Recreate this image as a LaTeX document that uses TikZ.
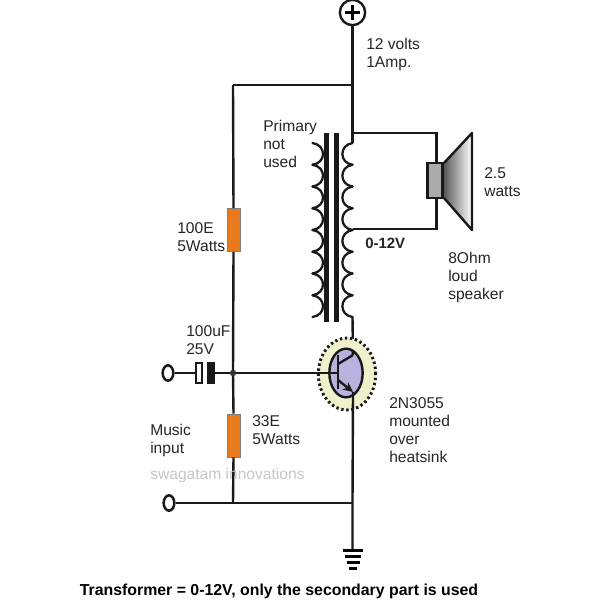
\documentclass[tikz,border=0pt]{standalone}
\usepackage{fontspec}
\setmainfont{Liberation Sans}
\tikzset{
  x=0.75pt,y=-0.75pt,
  wire/.style={draw=black!90,line width=1.8pt},
  coilline/.style={draw=black!90,line width=1.7pt},
  resistor/.style={draw=black!50,line width=0.3pt,fill={rgb,255:red,232;green,122;blue,28},minimum width=9.5pt,minimum height=32.5pt,inner sep=0pt},
  lbl/.style={anchor=north west,align=left,inner sep=0pt,font=\fontsize{11.7pt}{13.5pt}\selectfont,text=black!85},
  terminal/.style={ellipse,draw=black!90,line width=1.9pt,minimum width=8pt,minimum height=11.5pt,inner sep=0pt,fill=white},
  gbar/.style={line width=1.8pt,draw=black}
}
\usetikzlibrary{shapes.geometric,arrows.meta}
\begin{document}
\begin{tikzpicture}
\useasboundingbox (0,0) rectangle (600,600);
\fill[white] (0,0) rectangle (600,600);
% named points
\coordinate (topj) at (352.5,85);
\coordinate (leftj) at (233,85);
\coordinate (coiltop) at (352.5,133);
\coordinate (coiltapin) at (352.5,229);
\coordinate (spkTR) at (436.5,133);
\coordinate (spkBR) at (436.5,229);
\coordinate (coilbot) at (352.5,317);
\coordinate (collector) at (353,355);
\coordinate (emitter) at (353,392);
\coordinate (basebar) at (338,373);
\coordinate (junction) at (233,373);
\coordinate (botj) at (233,503);
\coordinate (botr) at (352.5,503);
\coordinate (gnd) at (352.5,550);
% plus terminal
\node[circle,draw=black!90,line width=1.8pt,minimum size=19pt,inner sep=0pt] (plus) at (352.5,12.5) {};
\draw[line width=1.7pt] (345,12.5) -- (360,12.5) (352.5,5) -- (352.5,20);
% wires
\draw[wire] (plus.south) -- (topj) -- (coiltop) -- (352.5,143);
\draw[wire] (topj) -- (leftj);
\draw[wire] (coiltop) -- (spkTR) -- (436.5,165);
\draw[wire] (coiltapin) -- (spkBR) -- (436.5,198);
% resistors
\node[resistor] (r1) at (233.5,230) {};
\node[resistor] (r2) at (233.5,435.5) {};
\draw[wire] (leftj) -- (r1.north);
\draw[wire] (r1.south) -- (junction) -- (r2.north);
\draw[wire] (r2.south) -- (botj);
\draw[wire] (botj) -- (botr);
% transformer core
\fill[black!90] (323.5,133) rectangle (328.5,322);
\fill[black!90] (333.5,133) rectangle (338.5,322);
% coils
\foreach \i in {0,...,7}{
  \pgfmathsetmacro{\ya}{143+\i*21.75}
  \draw[coilline,line cap=round] (352.5,\ya) .. controls (339,\ya+2) and (339,\ya+20) .. (352.5,\ya+21.75);
  \draw[coilline,line cap=round] (312.5,\ya) .. controls (326.5,\ya+2) and (326.5,\ya+20) .. (312.5,\ya+21.75);
}
\draw[wire] (352.5,317) -- (collector);
% speaker
\shade[left color=black!65,right color=white] (444,163) -- (472,133) -- (472,230) -- (444,198) -- cycle;
\draw[line width=1.8pt,line join=round,draw=black!90] (444,163) -- (472,133) -- (472,230) -- (444,198);
\node[draw=black!90,line width=1.8pt,fill=black!33,minimum width=11.5pt,minimum height=26pt,inner sep=0pt] (mag) at (435,180.5) {};
% transistor
\node[ellipse,draw=black!90,line width=2.2pt,dash pattern=on 1.8pt off 2pt,fill={rgb,255:red,240;green,240;blue,204},minimum width=43pt,minimum height=54pt,inner sep=0pt] (halo) at (347,374) {};
\node[ellipse,draw=black!90,line width=1.8pt,fill={rgb,255:red,186;green,178;blue,222},minimum width=25pt,minimum height=36.5pt,inner sep=0pt] (qbody) at (346,373) {};
\draw[wire] (338,355) -- (338,389);
\draw[wire] (338,364) -- (collector);
\draw[wire,-{Stealth[length=7.5pt,width=7pt]}] (338,380) -- (emitter);
\draw[wire] (collector) -- (352.5,350);
\draw[wire] (emitter) -- (botr) -- (gnd);
% capacitor and input
\node[terminal] (in1) at (168,373) {};
\node[terminal] (in2) at (169,503) {};
\node[draw=black!90,line width=1.2pt,fill=white,minimum width=4.5pt,minimum height=15pt,inner sep=0pt] (capL) at (199,373) {};
\node[draw=black!90,line width=0.5pt,fill=black!90,minimum width=5pt,minimum height=15.5pt,inner sep=0pt] (capR) at (210.5,373) {};
\draw[wire] (in1) -- (capL);
\draw[wire] (capR) -- (junction);
\draw[wire] (junction) -- (basebar);
\draw[wire] (in2) -- (botj);
\fill[black!80] (junction) circle (3.2);
% ground
\draw[line width=2.4pt,draw=black] (342.5,550.5) -- (363,550.5);
\draw[gbar,line width=2pt] (345,556.5) -- (361,556.5);
\draw[gbar] (346.5,562.5) -- (359.5,562.5);
\draw[gbar] (349,568.5) -- (357,568.5);
% labels
\node[lbl] (t1) at (366,38) {12 volts\\1Amp.};
\node[lbl] (t2) at (263,120) {Primary\\not\\used};
\node[lbl,font=\fontsize{11.2pt}{13.5pt}\selectfont\bfseries] (t3) at (365,238) {0-12V};
\node[lbl] (t4) at (484,167) {2.5\\watts};
\node[lbl] (t5) at (448,251.5) {8Ohm\\loud\\speaker};
\node[lbl] (t6) at (177,222) {100E\\5Watts};
\node[lbl] (t7) at (186,325) {100uF\\25V};
\node[lbl] (t8) at (150,424) {Music\\input};
\node[lbl] (t9) at (252,415) {33E\\5Watts};
\node[lbl] (t10) at (389,397) {2N3055\\mounted\\over\\heatsink};
\node[lbl,text=black!22] (t11) at (150,468) {swagatam innovations};
\node[lbl,font=\fontsize{11.9pt}{12pt}\selectfont\bfseries,anchor=center,text=black] (t12) at (279,591.5) {Transformer = 0-12V, only the secondary part is used};
\end{tikzpicture}
\end{document}
